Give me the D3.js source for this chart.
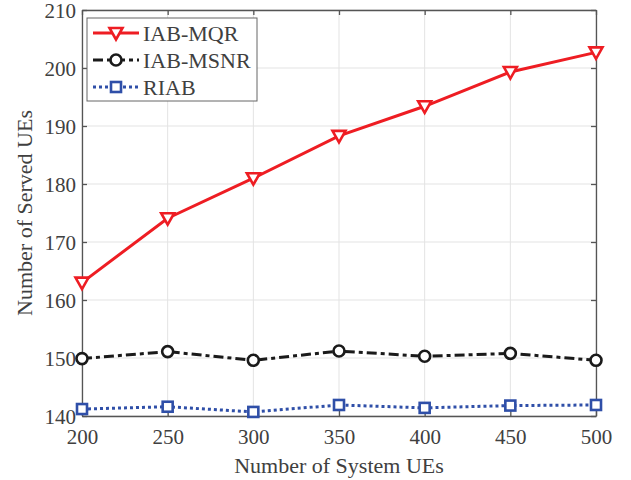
<!DOCTYPE html>
<html>
<head>
<meta charset="utf-8">
<script src="https://cdn.jsdelivr.net/npm/d3@7"></script>
<style>
  body { margin: 0; background: #fff; }
  text { font-family: "Liberation Serif", "Times New Roman", serif; fill: #404040; }
</style>
</head>
<body>
<svg width="631" height="480"></svg>
<script>
// data
const systemUEs = [200, 250, 300, 350, 400, 450, 500];
const iabMqr = [163, 174.1, 181, 188.3, 193.4, 199.3, 202.7];
const iabMsnr = [149.9, 151.1, 149.6, 151.2, 150.3, 150.8, 149.6];
const riab = [141.2, 141.6, 140.7, 141.9, 141.4, 141.8, 141.9];
const xTicks = [200, 250, 300, 350, 400, 450, 500];
const yTicks = [140, 150, 160, 170, 180, 190, 200, 210];

const series = [
  { name: "IAB-MQR", values: iabMqr, color: "#ee1d23", dash: null, marker: "tri" },
  { name: "IAB-MSNR", values: iabMsnr, color: "#1a1a1a", dash: "10,4,4,4", marker: "circle" },
  { name: "RIAB", values: riab, color: "#2f4fa8", dash: "3,3", marker: "square" },
];

const svg = d3.select("svg");
const margin = { top: 10, right: 35, bottom: 64, left: 82 };
const width = 631 - margin.left - margin.right;
const height = 480 - margin.top - margin.bottom;

const g = svg.append("g").attr("transform", `translate(${margin.left},${margin.top})`);

const x = d3.scaleLinear().domain([200, 500]).range([0, width]);
const y = d3.scaleLinear().domain([140, 210]).range([height, 0]);

// grid
g.append("g").selectAll("line").data(xTicks).join("line")
  .attr("x1", d => x(d)).attr("x2", d => x(d)).attr("y1", 0).attr("y2", height)
  .attr("stroke", "#e3e3e3").attr("stroke-width", 1);
g.append("g").selectAll("line").data(yTicks).join("line")
  .attr("x1", 0).attr("x2", width).attr("y1", d => y(d)).attr("y2", d => y(d))
  .attr("stroke", "#e3e3e3").attr("stroke-width", 1);

// axes (ticks inside like matlab)
const axisColor = "#555";
const xAxis = g.append("g").attr("transform", `translate(0,${height})`)
  .call(d3.axisBottom(x).tickValues(xTicks).tickSizeInner(-5).tickSizeOuter(0).tickPadding(13));
const yAxis = g.append("g")
  .call(d3.axisLeft(y).tickValues(yTicks).tickSizeInner(-5).tickSizeOuter(0).tickPadding(6));
const xTop = g.append("g")
  .call(d3.axisTop(x).tickValues(xTicks).tickSizeInner(-5).tickSizeOuter(0).tickFormat(""));
const yRight = g.append("g").attr("transform", `translate(${width},0)`)
  .call(d3.axisRight(y).tickValues(yTicks).tickSizeInner(-5).tickSizeOuter(0).tickFormat(""));
[xAxis, yAxis, xTop, yRight].forEach(a => {
  a.selectAll("path, line").attr("stroke", axisColor).attr("stroke-width", 1.3);
  a.selectAll("text").style("font-size", "21px").attr("fill", "#404040")
    .style("font-family", "'Liberation Serif', serif");
});
yAxis.selectAll("text").attr("dy", "0.37em");

// axis titles
svg.append("text")
  .attr("x", margin.left + width / 2).attr("y", 473)
  .attr("text-anchor", "middle").style("font-size", "22px")
  .text("Number of System UEs");
svg.append("text")
  .attr("transform", `translate(32,${margin.top + height / 2}) rotate(-90)`)
  .attr("text-anchor", "middle").style("font-size", "22px")
  .text("Number of Served UEs");

function drawMarker(sel, type, color) {
  if (type === "tri") {
    sel.append("path").attr("d", "M-6.5,-5 L6.5,-5 L0,6.5 Z");
  } else if (type === "circle") {
    sel.append("circle").attr("r", 5.5);
  } else {
    sel.append("rect").attr("x", -5).attr("y", -5).attr("width", 10).attr("height", 10);
  }
  sel.selectAll("path, circle, rect")
    .attr("fill", "#fff").attr("stroke", color).attr("stroke-width", 2.6);
}

const line = d3.line().x((d, i) => x(systemUEs[i])).y(d => y(d));

series.forEach(s => {
  g.append("path").datum(s.values)
    .attr("d", line).attr("fill", "none")
    .attr("stroke", s.color).attr("stroke-width", 3)
    .attr("stroke-dasharray", s.dash);
  s.values.forEach((v, i) => {
    const m = g.append("g").attr("transform", `translate(${x(systemUEs[i])},${y(v)})`);
    drawMarker(m, s.marker, s.color);
  });
});

// legend
const legend = svg.append("g").attr("transform", "translate(87,18)");
legend.append("rect").attr("width", 170).attr("height", 83)
  .attr("fill", "#fff").attr("stroke", "#666").attr("stroke-width", 1);
series.forEach((s, i) => {
  const ly = 15 + i * 27;
  legend.append("line").attr("x1", 6).attr("x2", 52).attr("y1", ly).attr("y2", ly)
    .attr("stroke", s.color).attr("stroke-width", 3).attr("stroke-dasharray", s.dash);
  const m = legend.append("g").attr("transform", `translate(29,${ly})`);
  drawMarker(m, s.marker, s.color);
  legend.append("text").attr("x", 56).attr("y", ly).attr("dy", "0.35em")
    .style("font-size", "22px").attr("fill", "#222").text(s.name);
});
</script>
</body>
</html>
